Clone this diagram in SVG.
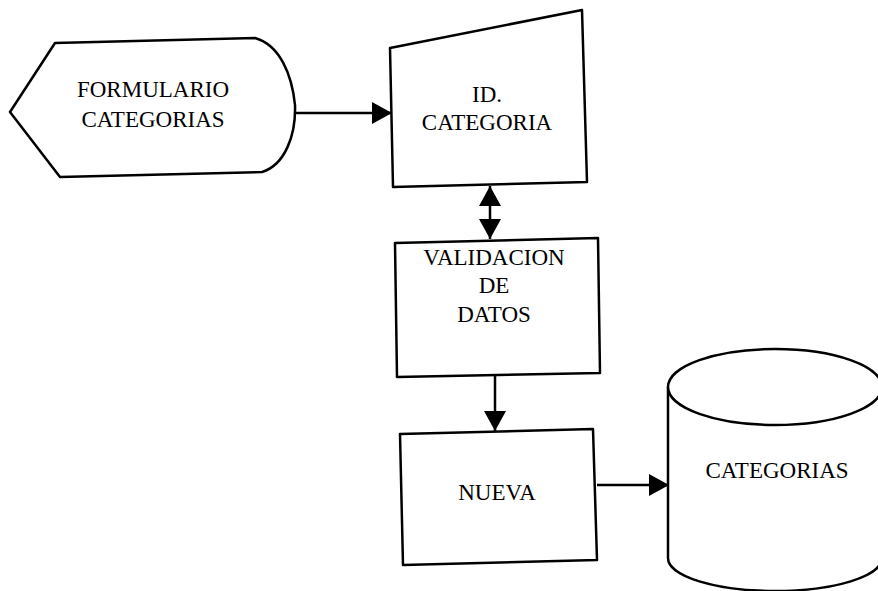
<svg xmlns="http://www.w3.org/2000/svg" width="878" height="591" viewBox="0 0 878 591">
<style>
.s{fill:#fff;stroke:#000;stroke-width:2.5;stroke-linejoin:round}
.c{fill:none;stroke:#000;stroke-width:2.5}
.t{font-family:"Liberation Serif","Times New Roman",serif;font-size:23px;fill:#000;text-anchor:middle}
</style>
<defs>
<marker id="ah" viewBox="0 0 20 22" refX="20" refY="11" markerWidth="20" markerHeight="22" markerUnits="userSpaceOnUse" orient="auto-start-reverse">
<path d="M0,0 L20,11 L0,22 Z" fill="#000"/>
</marker>
</defs>
<g id="formulario">
<path class="s" d="M55,43 L255,38 C280,45 292,75 295,105 C296,135 285,165 262,172 L60,177 L10,112 Z"/>
<text class="t" x="153" y="97">FORMULARIO</text>
<text class="t" x="153" y="127">CATEGORIAS</text>
</g>
<g id="id-categoria">
<path class="s" d="M390,48 L582,10 L587,182 L393,187 Z"/>
<text class="t" x="487" y="102">ID.</text>
<text class="t" x="487" y="130">CATEGORIA</text>
</g>
<g id="validacion">
<path class="s" d="M395,243 L598,238 L600,373 L397,377 Z"/>
<text class="t" x="494" y="265">VALIDACION</text>
<text class="t" x="494" y="293">DE</text>
<text class="t" x="494" y="322">DATOS</text>
</g>
<g id="nueva">
<path class="s" d="M400,434 L593,429 L597,560 L403,565 Z"/>
<text class="t" x="497" y="500">NUEVA</text>
</g>
<g id="categorias-db">
<path class="s" d="M668,387 L668,558 A107,33 0 0 0 882,558 L882,387"/>
<ellipse class="s" cx="775" cy="387" rx="107" ry="38"/>
<text class="t" x="777" y="478">CATEGORIAS</text>
</g>
<g id="connectors">
<line class="c" x1="295" y1="113" x2="392" y2="113" marker-end="url(#ah)"/>
<line class="c" x1="490" y1="186" x2="490" y2="239" marker-start="url(#ah)" marker-end="url(#ah)"/>
<line class="c" x1="495" y1="376" x2="495" y2="431" marker-end="url(#ah)"/>
<line class="c" x1="597" y1="485" x2="669" y2="485" marker-end="url(#ah)"/>
</g>
</svg>
